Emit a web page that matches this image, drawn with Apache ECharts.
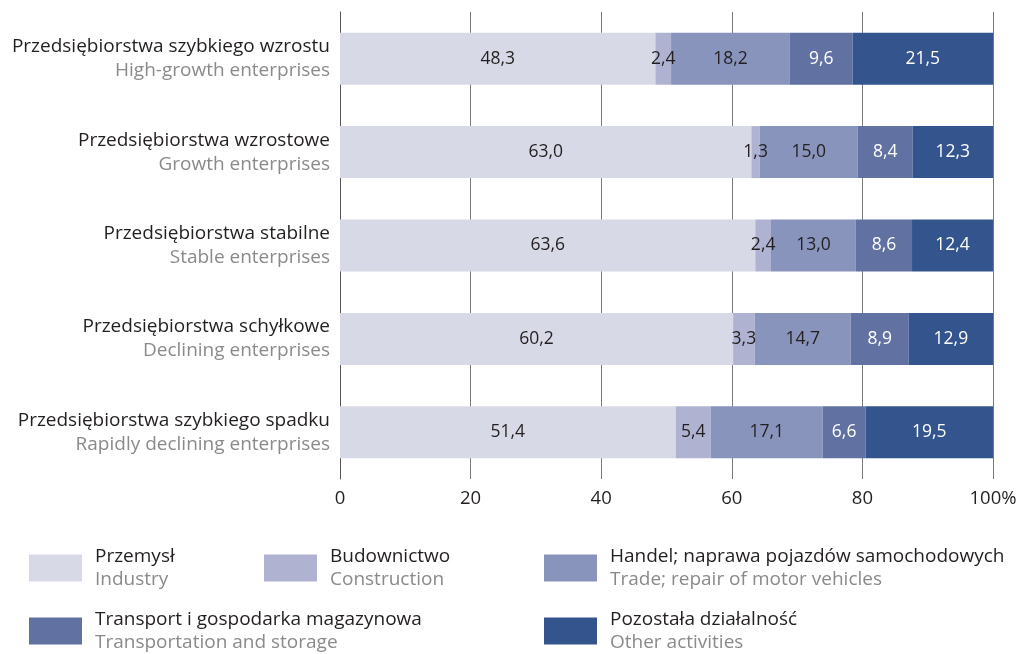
<!DOCTYPE html>
<html><head><meta charset="utf-8">
<script src="https://cdn.jsdelivr.net/npm/echarts@6/dist/echarts.min.js"></script>
<style>html,body{margin:0;padding:0;background:#fff}#c{width:1026px;height:654px}</style>
</head><body><div id="c"></div>
<script>
const categoriesPL = ['Przedsiębiorstwa szybkiego wzrostu','Przedsiębiorstwa wzrostowe','Przedsiębiorstwa stabilne','Przedsiębiorstwa schyłkowe','Przedsiębiorstwa szybkiego spadku'];
const categoriesEN = ['High-growth enterprises','Growth enterprises','Stable enterprises','Declining enterprises','Rapidly declining enterprises'];
const seriesPL = ['Przemysł','Budownictwo','Handel; naprawa pojazdów samochodowych','Transport i gospodarka magazynowa','Pozostała działalność'];
const seriesEN = ['Industry','Construction','Trade; repair of motor vehicles','Transportation and storage','Other activities'];
const industry = [48.3,63.0,63.6,60.2,51.4];
const construction = [2.4,1.3,2.4,3.3,5.4];
const trade = [18.2,15.0,13.0,14.7,17.1];
const transport = [9.6,8.4,8.6,8.9,6.6];
const other = [21.5,12.3,12.4,12.9,19.5];
const xTicks = [0,20,40,60,80,100];

const values = [industry,construction,trade,transport,other];
const colors = ['#d8d9e6','#afb3d1','#8994bc','#6171a1','#33548d'];
const labelColors = ['#231f20','#231f20','#231f20','#ffffff','#ffffff'];
const FONT = 'Open Sans';
const FS = 19;

const chart = echarts.init(document.getElementById('c'));
const series = seriesPL.map((n,i)=>({
  name:n, type:'bar', stack:'s', barWidth:52,
  data: values[i],
  itemStyle:{color:colors[i]},
  label:{show:true, position:'inside', color:labelColors[i], fontFamily:FONT, fontSize:17.5,
    formatter:p=>p.value.toFixed(1).replace('.',',')},
  emphasis:{disabled:true}
}));
const legendPos = [[29,547],[264,547],[544,547],[29,610],[544,610]];
const legends = seriesPL.map((n,i)=>({
  data:[n], left:legendPos[i][0], top:legendPos[i][1], padding:0, itemWidth:53, itemHeight:27, itemGap:0,
  selectedMode:false, icon:'rect',
  formatter: name => '{a|'+name+'}\n{b|'+seriesEN[seriesPL.indexOf(name)]+'}',
  textStyle:{padding:[0,0,0,8], rich:{
    a:{fontFamily:FONT,fontSize:FS,color:'#231f20',lineHeight:23},
    b:{fontFamily:FONT,fontSize:FS,color:'#8a8a8a',lineHeight:23}}}
}));
chart.setOption({
  animation:false,
  textStyle:{fontFamily:FONT},
  grid:{left:340,right:33,top:12,bottom:175},
  legend:legends,
  xAxis:{type:'value',min:0,max:100,interval:20,
    axisLine:{show:false},axisTick:{show:false},
    splitLine:{show:true,lineStyle:{color:'#7a7a7a',width:1}},
    axisLabel:{fontFamily:FONT,fontSize:18.5,color:'#231f20',margin:10,
      formatter:v=> v===100 ? '100%' : String(v)}
  },
  yAxis:{type:'category',inverse:true,data:categoriesPL,
    axisLine:{show:true,lineStyle:{color:'#555',width:1}},axisTick:{show:false},
    axisLabel:{margin:10,align:'right',
      formatter:(v,i)=>'{a|'+v+'}\n{b|'+categoriesEN[i]+'}',
      rich:{a:{fontFamily:FONT,fontSize:FS,color:'#231f20',lineHeight:24,align:'right'},
            b:{fontFamily:FONT,fontSize:FS,color:'#8a8a8a',lineHeight:24,align:'right'}}}
  },
  series:series
});
</script></body></html>
